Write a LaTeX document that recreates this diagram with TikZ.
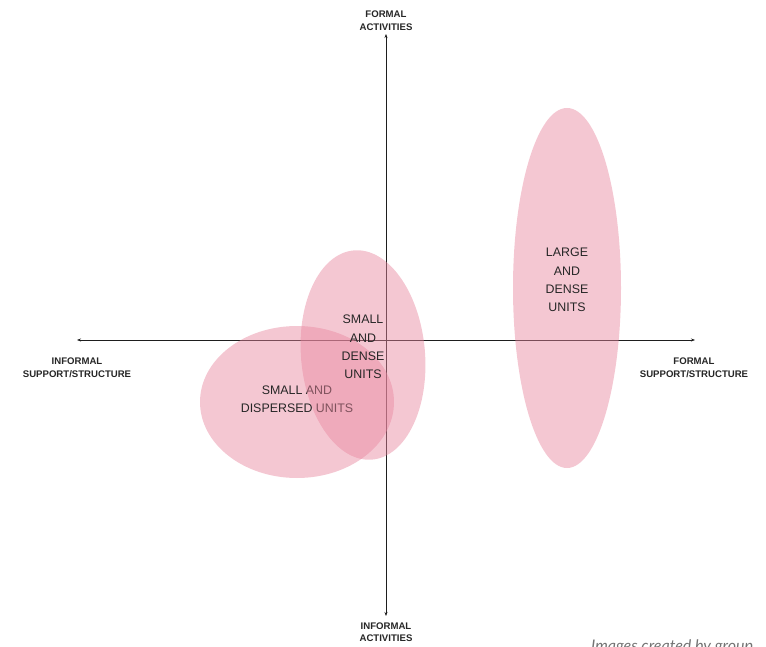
\documentclass[tikz,border=0pt]{standalone}
\usepackage{fontspec}
\setmainfont{Liberation Sans}
\newfontfamily\notefont{Lato}
\usetikzlibrary{arrows.meta}
\definecolor{blobpink}{RGB}{232,134,158}
\definecolor{axisgray}{RGB}{30,30,30}
\tikzset{
  axis/.style={draw=axisgray, line width=0.8pt, -{Stealth[length=4pt,width=3pt]}},
  blob/.style={fill=blobpink, fill opacity=0.46, draw=none},
  axlabel/.style={font=\fontsize{9.6}{12.6}\selectfont\bfseries, text=black!85, align=center, inner sep=0pt},
  blobtext/.style={font=\fontsize{12.4}{18.2}\selectfont, text=black!85, align=center, inner sep=0pt},
}
\begin{document}
\begin{tikzpicture}[x=1pt,y=-1pt]
\useasboundingbox (0,0) rectangle (766,647);
% axes end points
\coordinate (c) at (386,340);
\coordinate (top) at (386,34);
\coordinate (bot) at (386,616);
\coordinate (left) at (77,340);
\coordinate (right) at (695,340);
\draw[axis] (c) -- (top);
\draw[axis] (c) -- (bot);
\draw[axis] (c) -- (left);
\draw[axis] (c) -- (right);
% axis labels
\node[axlabel] (ftop) at (386,20.5) {FORMAL\\ACTIVITIES};
\node[axlabel] (fbot) at (386,632) {INFORMAL\\ACTIVITIES};
\node[axlabel] (fleft) at (77,367.5) {INFORMAL\\SUPPORT/STRUCTURE};
\node[axlabel] (fright) at (694,367.5) {FORMAL\\SUPPORT/STRUCTURE};
% large and dense
\fill[blob] (567,288) ellipse [x radius=54, y radius=180];
\node[blobtext] (large) at (567,280) {LARGE\\AND\\DENSE\\UNITS};
% small and dispersed
\fill[blob] (297,402) ellipse [x radius=97, y radius=76];
\node[blobtext] (disp) at (297,399) {SMALL AND\\DISPERSED UNITS};
% small and dense
\fill[blob, rotate around={5:(363,355)}] (363,355) ellipse [x radius=62, y radius=105];
\node[blobtext] (dense) at (363,347) {SMALL\\AND\\DENSE\\UNITS};
% caption
\node[font=\notefont\itshape\fontsize{16}{18}\selectfont, text=black!55, anchor=base west, inner sep=0pt] (note) at (591,651) {Images created by group};
\end{tikzpicture}
\end{document}
